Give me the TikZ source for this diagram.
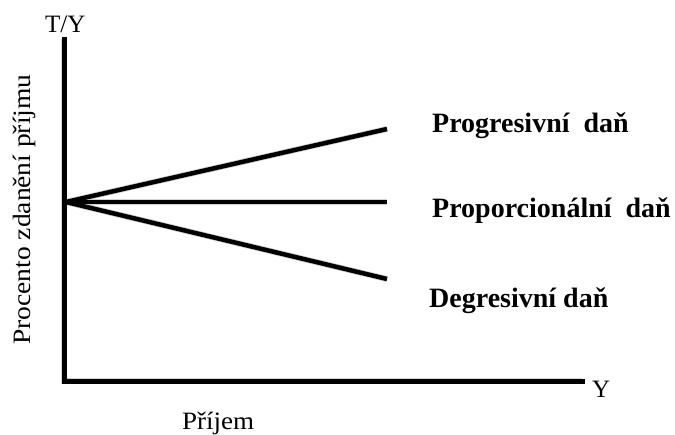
\documentclass[tikz,border=0pt]{standalone}
\usepackage{fontspec}
\setmainfont{Liberation Serif}
\begin{document}
\begin{tikzpicture}[x=1pt,y=-1pt,
  axisline/.style={line width=5pt,line join=miter,line cap=rect},
  rayline/.style={line width=4.5pt},
  shadowline/.style={black!18,line width=6pt,shift={(2pt,-2.5pt)}},
  lbl/.style={inner sep=0pt,font=\fontsize{25}{28}\selectfont},
  blbl/.style={inner sep=0pt,font=\fontsize{28}{32}\selectfont\bfseries}]
\useasboundingbox (0,0) rectangle (675,434);
\fill[white] (0,0) rectangle (675,434);
% axes
\coordinate (top) at (64,39);
\coordinate (corner) at (64,381);
\coordinate (xend) at (582,381);
% rays
\coordinate (o) at (66,202);
\coordinate (pe) at (387,129);
\coordinate (ce) at (387,202);
\coordinate (de) at (387,279);
% shadows
\draw[shadowline] (top) -- (corner) -- (xend);
\draw[shadowline] (o) -- (pe);
\draw[shadowline] (o) -- (ce);
\draw[shadowline] (o) -- (de);
% lines
\draw[axisline] (top) -- (corner) -- (xend);
\draw[rayline] (o) -- (pe);
\draw[rayline] (o) -- (ce);
\draw[rayline] (o) -- (de);
% labels
\node[blbl,anchor=base west] (lp) at (432,132) {Progresivní\ \ daň};
\node[blbl,anchor=base west] (lc) at (432,217) {Proporcionální\ \ daň};
\node[blbl,anchor=base west] (ld) at (429,307) {Degresivní daň};
\node[lbl,anchor=base west] (ty) at (45,32) {T/Y};
\node[lbl,anchor=base west] (yl) at (592,397) {Y};
\node[lbl,anchor=base west] (pr) at (182,429) {\scalebox{1.08}[1]{Příjem}};
\node[lbl,anchor=base west,rotate=90] (vl) at (30,345) {\scalebox{1.1}[1]{Procento zdanění příjmu}};
\end{tikzpicture}
\end{document}
